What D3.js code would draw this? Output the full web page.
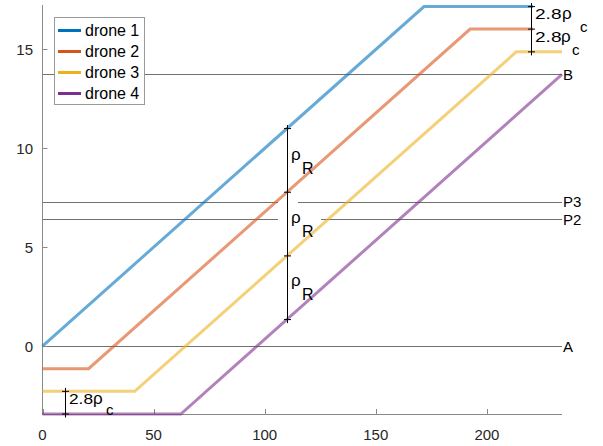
<!DOCTYPE html>
<html><head><meta charset="utf-8">
<script src="https://cdn.jsdelivr.net/npm/d3@7"></script>
<style>
body{margin:0;background:#fff;}
text{font-family:"Liberation Sans",Arial,Helvetica,sans-serif;}
</style></head><body>
<svg id="c" width="603" height="446"></svg>
<script>
// ---- data ----
const droneNames = ["drone 1","drone 2","drone 3","drone 4"];
const droneColors = ["#0072BD","#D95319","#EDB120","#7E2F8E"];
const drone1 = [[0,0],[171.7,17.17],[233.8,17.17]];
const drone2 = [[0,-1.145],[20.75,-1.145],[192.45,16.03],[233.8,16.03]];
const drone3 = [[0,-2.29],[41.5,-2.29],[213.2,14.88],[233.8,14.88]];
const drone4 = [[0,-3.435],[62.25,-3.435],[233.8,13.74]];
const refNames = ["A","P2","P3","B"];
const refValues = [0, 6.41, 7.29, 13.74];
const xTicks = [0,50,100,150,200];
const yTicks = [0,5,10,15];
const xDomain = [0,233.8];
const yDomain = [-3.435,17.25];
// annotation brackets: x position and y values of markers
const annotRhoR = {x:110, ys:[11.0,7.78,4.56,1.34]};
const annotTop = {x:220, ys:[17.17,16.03,14.88]};
const annotBottom = {x:10, ys:[-2.29,-3.435]};

const svg = d3.select("#c");
const x = d3.scaleLinear().domain(xDomain).range([42.5,562]);
const y = d3.scaleLinear().domain(yDomain).range([414,5]);
const drones = [drone1,drone2,drone3,drone4];

// reference lines
const gRef = svg.append("g");
refValues.forEach((v,i)=>{
  gRef.append("line").attr("x1",x(0)).attr("x2",x(xDomain[1]))
    .attr("y1",Math.round(y(v))+0.5).attr("y2",Math.round(y(v))+0.5)
    .attr("stroke","#707070").attr("stroke-width",1);
  gRef.append("text").attr("x",x(xDomain[1])+1).attr("y",y(v)+5.5)
    .attr("font-size",15).attr("fill","#000").text(refNames[i]);
});
// gaps behind middle rho_R label
svg.append("rect").attr("x",278).attr("y",198).attr("width",20).attr("height",7).attr("fill","#fff");
svg.append("rect").attr("x",278).attr("y",215).attr("width",43).attr("height",8).attr("fill","#fff");

// axes
const gAx = svg.append("g");
const axCol = "#8a8a8a";
gAx.append("line").attr("x1",42.5).attr("x2",42.5).attr("y1",5).attr("y2",414.5).attr("stroke",axCol);
gAx.append("line").attr("x1",42).attr("x2",562).attr("y1",414.5).attr("y2",414.5).attr("stroke",axCol);
xTicks.forEach(t=>{
  const px = Math.round(x(t))+0.5;
  gAx.append("line").attr("x1",px).attr("x2",px).attr("y1",414).attr("y2",409).attr("stroke",axCol);
  gAx.append("text").attr("x",x(t)).attr("y",440).attr("text-anchor","middle")
    .attr("font-size",15).attr("fill","#262626").text(t);
});
yTicks.forEach(t=>{
  const py = Math.round(y(t))+0.5;
  gAx.append("line").attr("x1",42.5).attr("x2",47.5).attr("y1",py).attr("y2",py).attr("stroke",axCol);
  gAx.append("text").attr("x",33).attr("y",y(t)+5.5).attr("text-anchor","end")
    .attr("font-size",15).attr("fill","#262626").text(t);
});

// drone lines
const line = d3.line().x(d=>x(d[0])).y(d=>y(d[1]));
drones.forEach((d,i)=>{
  svg.append("path").attr("d",line(d)).attr("fill","none")
    .attr("stroke",droneColors[i]).attr("stroke-opacity",0.6).attr("stroke-width",3);
});

// white label backgrounds (top right)
svg.append("rect").attr("x",533).attr("y",3).attr("width",30).attr("height",18).attr("fill","#fff");
svg.append("rect").attr("x",533).attr("y",25).attr("width",30).attr("height",19).attr("fill","#fff");

// annotation brackets
function bracket(a){
  const px = Math.round(x(a.x))+0.5;
  svg.append("line").attr("x1",px).attr("x2",px)
    .attr("y1",y(d3.max(a.ys))).attr("y2",y(d3.min(a.ys))).attr("stroke","#000").attr("stroke-width",1);
  a.ys.forEach(v=>{
    svg.append("line").attr("x1",px-3.5).attr("x2",px+3.5).attr("y1",y(v)).attr("y2",y(v)).attr("stroke","#000");
    svg.append("line").attr("x1",px).attr("x2",px).attr("y1",y(v)-3.5).attr("y2",y(v)+3.5).attr("stroke","#000");
  });
}
bracket(annotRhoR); bracket(annotTop); bracket(annotBottom);

// annotation texts
function lbl(xp,yp,t,fs,tl){
  const e = svg.append("text").attr("x",xp).attr("y",yp).attr("font-size",fs).attr("fill","#000").text(t);
  if(tl) e.attr("textLength",tl).attr("lengthAdjust","spacingAndGlyphs");
  return e;
}
// rho_R labels
[[159.5,173.5],[222.5,236.8],[285.5,300]].forEach(p=>{
  lbl(291,p[0],"ρ",17);
  lbl(302,p[1],"R",16);
});
// 2.8 rho_c top right
lbl(535,19,"2.8",15,26.5); lbl(562,19,"ρ",17); lbl(580,32,"c",15);
lbl(535,42,"2.8",15,26.5); lbl(561,42,"ρ",17); lbl(572,55,"c",15);
// bottom left
lbl(69,403.5,"2.8",15,24); lbl(93,403.5,"ρ",17); lbl(106,415,"c",15);

// legend
const lg = svg.append("g");
lg.append("rect").attr("x",54.5).attr("y",17.5).attr("width",90).attr("height",87)
  .attr("fill","#fff").attr("stroke","#999").attr("stroke-width",1);
const ly = [30.5,51.5,72.5,93.5];
droneNames.forEach((n,i)=>{
  lg.append("line").attr("x1",58).attr("x2",81).attr("y1",ly[i]).attr("y2",ly[i])
    .attr("stroke",droneColors[i]).attr("stroke-width",3);
  lg.append("text").attr("x",85).attr("y",ly[i]+5.5).attr("font-size",16).attr("fill","#000").text(n);
});
</script></body></html>
